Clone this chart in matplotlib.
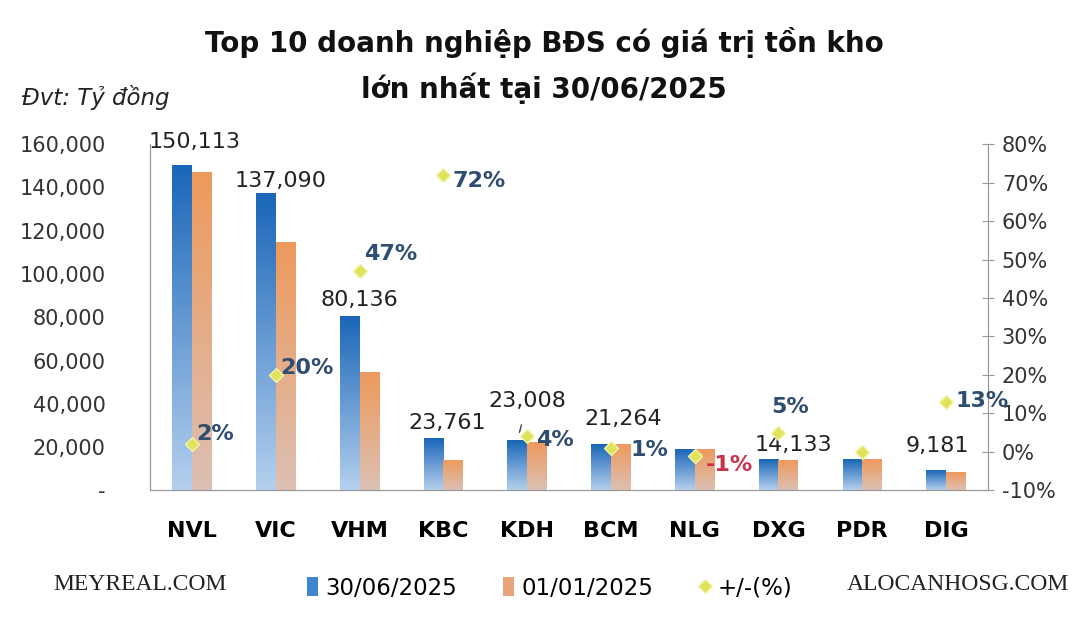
import numpy as np
import matplotlib
matplotlib.use("Agg")
import matplotlib.pyplot as plt
from matplotlib.colors import LinearSegmentedColormap
from matplotlib.patches import Patch
from matplotlib.lines import Line2D
from matplotlib.ticker import FuncFormatter, MultipleLocator

# Số liệu (tỷ đồng)
companies = ["NVL", "VIC", "VHM", "KBC", "KDH", "BCM", "NLG", "DXG", "PDR", "DIG"]
inv_jun = [150113, 137090, 80136, 23761, 23008, 21264, 18500, 14133, 14300, 9181]
inv_jan = [147000, 114300, 54500, 13800, 22100, 21050, 18700, 13460, 14300, 8120]
pct_change = [2, 20, 47, 72, 4, 1, -1, 5, 0, 13]
value_labels = ["150,113", "137,090", "80,136", "23,761", "23,008", "21,264", "", "14,133", "", "9,181"]
pct_labels = ["2%", "20%", "47%", "72%", "4%", "1%", "-1%", "5%", "", "13%"]

# vị trí nhãn (pixel)
val_off = [(3, 24), (5, 13), (0, 17), (4, 16), (0, 40), (12, 25), (0, 0), (15, 15), (0, 0), (-9, 24)]
pct_off = [(4, 10), (4, 7), (4, 17), (9, -6), (9, -4), (20, -2), (11, -9), (12, 26), (0, 0), (9, 1)]
pct_ha = ["left", "left", "left", "left", "left", "left", "left", "center", "left", "left"]

blue_top, blue_bot = "#1a66b8", "#b5d0ee"
orange_top, orange_bot = "#ee9a5c", "#dcc0b4"
marker_col = "#dfe35c"

fig = plt.figure(figsize=(10.88, 6.27), dpi=100)
ax = fig.add_axes([0.138, 0.218, 0.770, 0.552])
ax2 = ax.twinx()

x = np.arange(len(companies))
w = 0.235


def grad_bar(xc, h, top, bot):
    cmap = LinearSegmentedColormap.from_list("g", [top, bot])
    grad = np.linspace(0, 1, 128).reshape(-1, 1)
    ax.imshow(grad, extent=[xc - w / 2, xc + w / 2, 0, h], origin="upper",
              aspect="auto", cmap=cmap, zorder=2)


for i in range(len(companies)):
    grad_bar(x[i] - w / 2, inv_jun[i], blue_top, blue_bot)
    grad_bar(x[i] + w / 2, inv_jan[i], orange_top, orange_bot)

ax.set_xlim(-0.5, len(companies) - 0.5)
ax.set_ylim(0, 160000)
ax.yaxis.set_major_locator(MultipleLocator(20000))
ax.yaxis.set_major_formatter(FuncFormatter(lambda v, p: "-" if v == 0 else f"{v:,.0f}"))
ax.tick_params(axis="y", length=0, labelsize=15, colors="#333333", pad=32)
ax.set_xticks(x)
ax.set_xticklabels(companies, fontsize=16, fontweight="bold")
ax.tick_params(axis="x", length=0, pad=22)

for sp in ["top"]:
    ax.spines[sp].set_visible(False)
    ax2.spines[sp].set_visible(False)
for sp in ["left", "bottom", "right"]:
    ax.spines[sp].set_color("#999999")
    ax2.spines[sp].set_color("#999999")

for i, lab in enumerate(value_labels):
    if lab:
        ax.annotate(lab, (x[i], inv_jun[i]), xytext=val_off[i], textcoords="offset pixels",
                    ha="center", va="center", fontsize=16, color="#222222", zorder=5)

# đường dẫn nhãn KDH
ax.annotate("", (x[4] - 0.1, inv_jun[4] + 2500), xytext=(x[4] - 0.06, inv_jun[4] + 8500),
            arrowprops=dict(arrowstyle="-", color="#444444", lw=1))

ax2.set_ylim(-10, 80)
ax2.yaxis.set_major_locator(MultipleLocator(10))
ax2.yaxis.set_major_formatter(FuncFormatter(lambda v, p: f"{v:.0f}%"))
ax2.tick_params(axis="y", direction="inout", length=8, color="#999999",
                labelsize=15, labelcolor="#333333", pad=6)
ax2.plot(x, pct_change, linestyle="none", marker="D", markersize=7,
         markerfacecolor=marker_col, markeredgecolor="#f2f4a8", markeredgewidth=1, zorder=4)

for i, lab in enumerate(pct_labels):
    if lab:
        col = "#c8324a" if pct_change[i] < 0 else "#2e4d70"
        ax2.annotate(lab, (x[i], pct_change[i]), xytext=pct_off[i], textcoords="offset pixels",
                     ha=pct_ha[i], va="center", fontsize=16, fontweight="bold", color=col, zorder=6)

fig.text(0.5, 0.932, "Top 10 doanh nghiệp BĐS có giá trị tồn kho", ha="center", va="center",
         fontsize=20, fontweight="bold", color="#111111")
fig.text(0.5, 0.859, "lớn nhất tại 30/06/2025", ha="center", va="center",
         fontsize=20, fontweight="bold", color="#111111")
fig.text(0.02, 0.845, "Đvt: Tỷ đồng", ha="left", va="center", fontsize=16.5,
         style="italic", color="#222222")

handles = [Patch(facecolor="#3f86cf", edgecolor="none"),
           Patch(facecolor="#e8a47a", edgecolor="none"),
           Line2D([], [], linestyle="none", marker="D", markersize=7,
                  markerfacecolor=marker_col, markeredgecolor="#f2f4a8")]
fig.legend(handles, ["30/06/2025", "01/01/2025", "+/-(%)"], loc="center",
           bbox_to_anchor=(0.505, 0.062), ncol=3, frameon=False, fontsize=16.5,
           handlelength=0.5, handleheight=0.9, handletextpad=0.3, columnspacing=2.0)

fig.text(0.129, 0.067, "MEYREAL.COM", ha="center", va="center", fontsize=17,
         family="Liberation Serif", color="#222222")
fig.text(0.880, 0.067, "ALOCANHOSG.COM", ha="center", va="center", fontsize=17,
         family="Liberation Serif", color="#222222")

fig.savefig("out.png", dpi=100)
